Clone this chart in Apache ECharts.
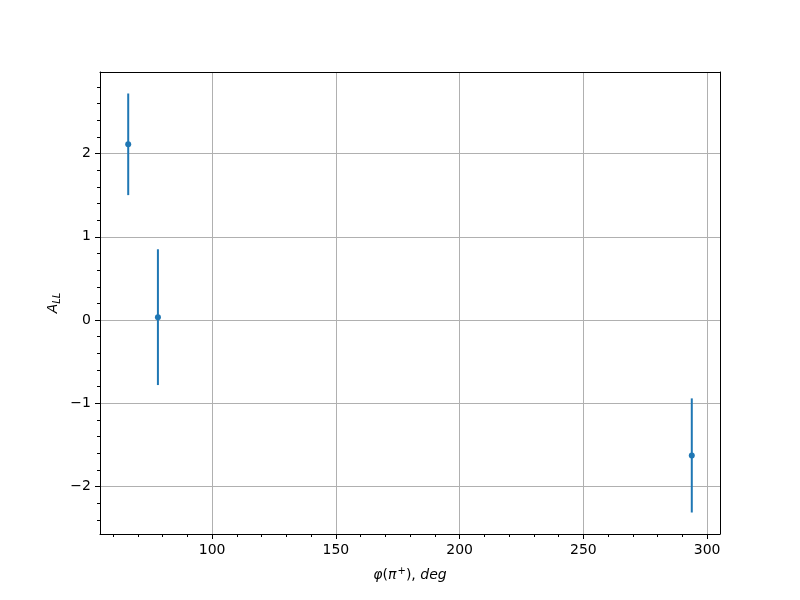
<!DOCTYPE html>
<html>
<head>
<meta charset="utf-8">
<script src="https://cdn.jsdelivr.net/npm/echarts@6/dist/echarts.min.js"></script>
<style>html,body{margin:0;padding:0;background:#fff}#c{width:800px;height:600px}</style>
</head>
<body>
<div id="c"></div>
<script>
// Data
const phi = [66.1, 78.1, 293.8];
const asym = [2.11, 0.035, -1.625];
const asymErr = [0.61, 0.815, 0.685];

// Tick values
const xMajor = [100, 150, 200, 250, 300];
const xMinor = [60, 70, 80, 90, 110, 120, 130, 140, 160, 170, 180, 190, 210, 220, 230, 240, 260, 270, 280, 290];
const yMajor = [-2, -1, 0, 1, 2];
const yMinor = [-2.4, -2.2, -1.8, -1.6, -1.4, -1.2, -0.8, -0.6, -0.4, -0.2, 0.2, 0.4, 0.6, 0.8, 1.2, 1.4, 1.6, 1.8, 2.2, 2.4, 2.6, 2.8];

const X_MIN = 54.7, X_MAX = 305.2, Y_MIN = -2.568, Y_MAX = 2.978;
const C = '#1f77b4';
const FONT = 'DejaVu Sans';

const chart = echarts.init(document.getElementById('c'), null, {renderer: 'canvas'});
const errData = phi.map((x, i) => [x, asym[i] - asymErr[i], asym[i] + asymErr[i]]);
const ptData = phi.map((x, i) => [x, asym[i]]);

chart.setOption({
  animation: false,
  backgroundColor: '#fff',
  grid: {left: 100, right: 80, top: 72, bottom: 66, containLabel: false},
  xAxis: [
    {type: 'value', min: X_MIN, max: X_MAX, position: 'bottom',
     axisLine: {show: true, onZero: false, lineStyle: {color: '#000', width: 1}},
     axisTick: {show: true, length: 5, lineStyle: {color: '#000', width: 1}, customValues: xMajor},
     axisLabel: {show: true, margin: 9, color: '#000', fontFamily: FONT, fontSize: 14, customValues: xMajor},
     splitLine: {show: true, lineStyle: {color: '#b0b0b0', width: 1}},
     name: '{i|φ}{r|(}{i|π}{sup|+}{r|), }{i|deg}', nameLocation: 'middle', nameGap: 32,
     nameMoveOverlap: false,
     nameTextStyle: {color: '#000', rich: {
       i: {fontFamily: FONT, fontSize: 14, fontStyle: 'italic', color: '#000'},
       r: {fontFamily: FONT, fontSize: 14, color: '#000'},
       sup: {fontFamily: FONT, fontSize: 10, color: '#000', padding: [0, 0, 8, 1]}
     }}
    },
    {type: 'value', min: X_MIN, max: X_MAX, position: 'bottom',
     axisLine: {show: false, onZero: false},
     axisTick: {show: true, length: 3, lineStyle: {color: '#000', width: 1}, customValues: xMinor},
     axisLabel: {show: false}, splitLine: {show: false}
    },
    {type: 'value', min: X_MIN, max: X_MAX, position: 'top',
     axisLine: {show: true, onZero: false, lineStyle: {color: '#000', width: 1}},
     axisTick: {show: false}, axisLabel: {show: false}, splitLine: {show: false}
    }
  ],
  yAxis: [
    {type: 'value', min: Y_MIN, max: Y_MAX, position: 'left',
     axisLine: {show: true, onZero: false, lineStyle: {color: '#000', width: 1}},
     axisTick: {show: true, length: 5, lineStyle: {color: '#000', width: 1}, customValues: yMajor},
     axisLabel: {show: true, margin: 9, color: '#000', fontFamily: FONT, fontSize: 14, customValues: yMajor,
       formatter: v => String(v).replace('-', '\u2212')},
     splitLine: {show: true, lineStyle: {color: '#b0b0b0', width: 1}},
     name: '{a|A}{s|LL}', nameLocation: 'middle', nameGap: 38, nameRotate: 90,
     nameMoveOverlap: false,
     nameTextStyle: {color: '#000', rich: {
       a: {fontFamily: FONT, fontSize: 14, fontStyle: 'italic', color: '#000'},
       s: {fontFamily: FONT, fontSize: 10, fontStyle: 'italic', color: '#000', padding: [8, 0, 0, 0]}
     }}
    },
    {type: 'value', min: Y_MIN, max: Y_MAX, position: 'left',
     axisLine: {show: false, onZero: false},
     axisTick: {show: true, length: 3, lineStyle: {color: '#000', width: 1}, customValues: yMinor},
     axisLabel: {show: false}, splitLine: {show: false}
    },
    {type: 'value', min: Y_MIN, max: Y_MAX, position: 'right',
     axisLine: {show: true, onZero: false, lineStyle: {color: '#000', width: 1}},
     axisTick: {show: false}, axisLabel: {show: false}, splitLine: {show: false}
    }
  ],
  series: [
    {type: 'custom', xAxisIndex: 0, yAxisIndex: 0, data: errData,
     encode: {x: 0, y: [1, 2]},
     renderItem: function (params, api) {
       const x = api.value(0);
       const p1 = api.coord([x, api.value(1)]);
       const p2 = api.coord([x, api.value(2)]);
       return {type: 'line', shape: {x1: p1[0], y1: p1[1], x2: p2[0], y2: p2[1]},
               style: {stroke: C, lineWidth: 2}};
     }, z: 3},
    {type: 'scatter', xAxisIndex: 0, yAxisIndex: 0, data: ptData, symbol: 'circle', symbolSize: 6,
     itemStyle: {color: C, opacity: 1}, z: 4}
  ]
});
</script>
</body>
</html>
